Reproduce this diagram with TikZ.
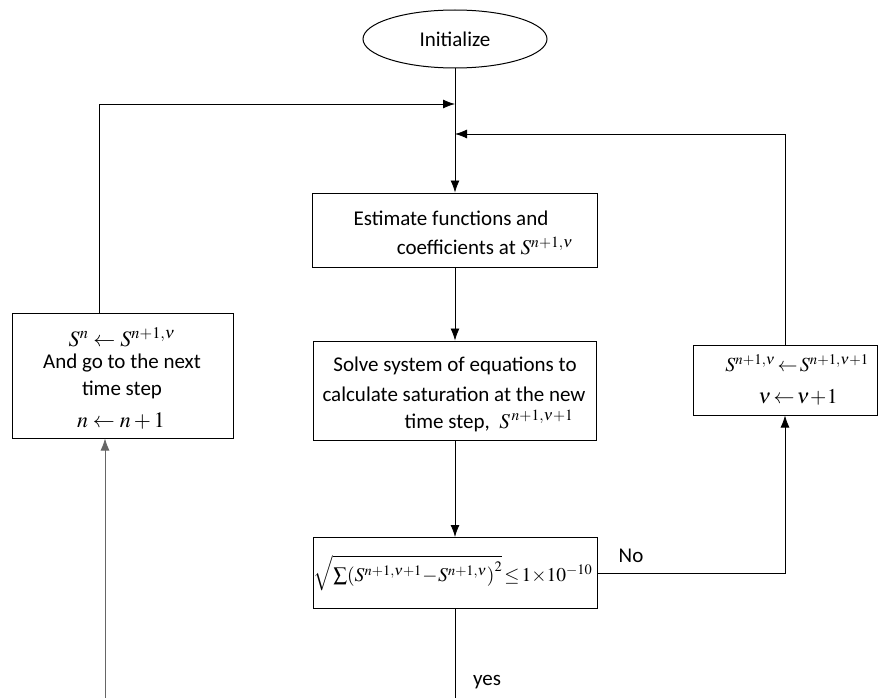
\documentclass[tikz,border=0pt]{standalone}
\usepackage{mathptmx}
\usepackage[no-math]{fontspec}
\setmainfont{Carlito}
\usetikzlibrary{arrows.meta,shapes.geometric}
\begin{document}
\begin{tikzpicture}[x=1pt,y=-1pt,
  box/.style={draw,line width=1pt,rectangle,inner sep=0},
  txt/.style={inner sep=0,font=\fontsize{21}{25}\selectfont},
  mth/.style={inner sep=0,font=\fontsize{22}{26}\selectfont},
  conn/.style={line width=0.8pt},
  arr/.style={conn,-{Latex[length=12pt,width=9pt]}}]
\useasboundingbox (0,0) rectangle (878,698);

\node[draw,ellipse,line width=1pt,minimum width=184,minimum height=58,inner sep=0,font=\fontsize{21}{25}\selectfont] (init) at (455,39) {Initialize};

\node[box,minimum width=285,minimum height=74] (est) at (455,230) {};
\node[txt] (est1) at (451,218) {Estimate functions and};
\node[txt] (est2) at (485,246) {coefficients at $\fontsize{22}{26}\selectfont S^{n+1,\nu}$};

\node[box,minimum width=283,minimum height=99] (solve) at (455,390.5) {};
\node[txt] (sol1) at (455,366) {Solve system of equations to};
\node[txt] (sol2) at (454,394) {calculate saturation at the new};
\node[txt] (sol3) at (489,421) {time step,\ \ $\fontsize{22}{26}\selectfont S^{\,n+1,\nu+1}$};

\node[box,minimum width=284,minimum height=71] (cond) at (455,573) {};
\node[inner sep=0,font=\fontsize{19.5}{23}\selectfont] (condt) at (453,573)
  {$\sqrt{\sum\!\left(S^{n+1,\nu+1}\!-\!S^{n+1,\nu}\right)^{2}}\,{\le}\,1{\times}10^{-10}$};

\node[box,minimum width=184,minimum height=70] (upd) at (785,380) {};
\node[inner sep=0,font=\fontsize{20}{24}\selectfont] (upd1) at (797,363) {$S^{n+1,\nu}\!\leftarrow\! S^{n+1,\nu+1}$};
\node[inner sep=0,font=\fontsize{21}{25}\selectfont] (upd2) at (798,397) {$\nu\!\leftarrow\!\nu\!+\!1$};

\node[box,minimum width=221,minimum height=125] (next) at (122.5,375.5) {};
\node[mth] (nx1) at (122,337) {$S^{n}\leftarrow S^{n+1,\nu}$};
\node[txt] (nx2) at (122,363) {And go to the next};
\node[txt] (nx3) at (122,390) {time step};
\node[mth] (nx4) at (121,421) {$n\leftarrow n+1$};

\coordinate (j1) at (455,104);
\coordinate (j2) at (455,134);
\coordinate (lbot) at (105,698);
\coordinate (cbot) at (455,698);

\draw[arr] (init.south) -- (est.north);
\draw[arr] (est.south) -- (solve.north);
\draw[arr] (solve.south) -- (cond.north);
\draw[conn] (cond.south) -- (cbot);
\draw[arr] (cond.east) -| (upd.south);
\draw[arr] (upd.north) |- (j2);
\draw[arr] ([xshift=-23.5pt]next.north) |- (j1);
\draw[arr,draw=gray!80!black] (lbot) -- (lbot |- next.south);

\node[txt] (nolab) at (631,556) {No};
\node[txt] (yeslab) at (487,682) {yes};
\end{tikzpicture}
\end{document}
